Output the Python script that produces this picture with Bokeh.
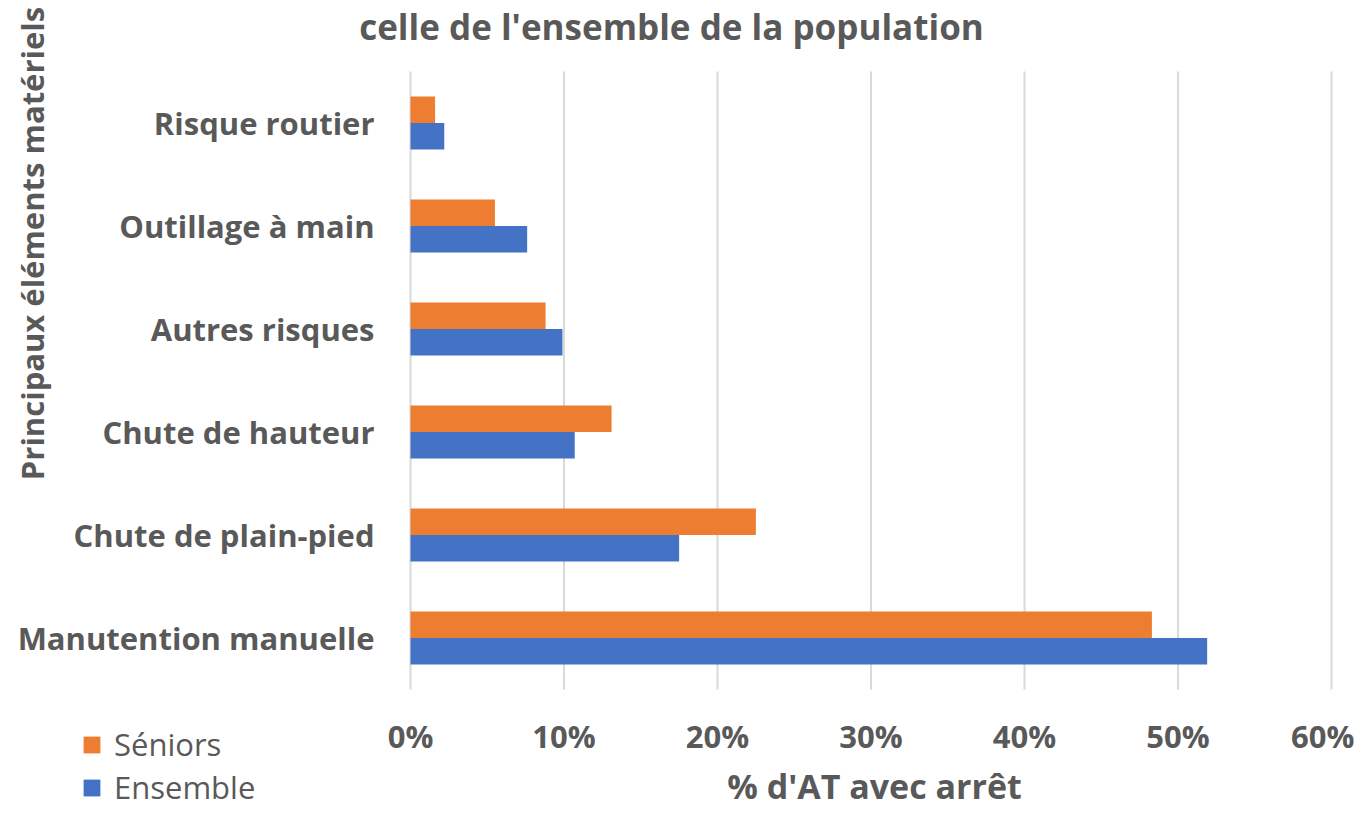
import math
from bokeh.plotting import figure
from bokeh.models import (Range1d, NumeralTickFormatter, Label, Legend, LegendItem,
                          FixedTicker, ColumnDataSource)
from bokeh.transform import dodge
from bokeh.embed import file_html
from bokeh.resources import INLINE

# ---- data ----
categories = ["Manutention manuelle", "Chute de plain-pied", "Chute de hauteur",
              "Autres risques", "Outillage à main", "Risque routier"]
seniors = [0.483, 0.225, 0.131, 0.088, 0.055, 0.016]
ensemble = [0.519, 0.175, 0.107, 0.099, 0.076, 0.022]
x_ticks = [0.0, 0.1, 0.2, 0.3, 0.4, 0.5, 0.6]
series_names = ["Séniors", "Ensemble"]
title_text = "celle de l'ensemble de la population"
y_title = "Principaux éléments matériels"
x_title = "% d'AT avec arrêt"

# ---- style / layout ----
ORANGE = "#ED7D31"
BLUE = "#4472C4"
GREY = "#595959"
FONT = "Open Sans"
W, H = 1354, 809
PX_L, PX_R = 410, 1331          # plot-area left/right in pixels
ROW = 103                        # pixels per category row
Y_C0 = 637.5                     # pixel centre of first category row

ppx = (PX_R - PX_L) / x_ticks[-1]
x_start = -PX_L / ppx
x_end = x_ticks[-1] + (W - PX_R) / ppx
y_start = -(H - Y_C0) / ROW
y_end = Y_C0 / ROW

n = len(categories)
ypos = list(range(n))
src = ColumnDataSource(dict(ypos=ypos, cat=categories, seniors=seniors, ensemble=ensemble))

p = figure(width=W, height=H, output_backend="svg", toolbar_location=None,
           x_range=Range1d(x_start, x_end), y_range=Range1d(y_start, y_end))
p.min_border = 0
p.min_border_left = 0
p.min_border_right = 0
p.min_border_top = 0
p.min_border_bottom = 0
p.outline_line_color = None
p.xgrid.grid_line_color = None
p.ygrid.grid_line_color = None

# vertical grid lines limited to the plot area
grid_src = ColumnDataSource(dict(x=x_ticks, y0=[-0.5] * len(x_ticks),
                                 y1=[n - 0.5] * len(x_ticks)))
p.segment(x0="x", x1="x", y0="y0", y1="y1", source=grid_src,
          line_color="#D9D9D9", line_width=2)

BAR_H = 0.257
r_s = p.hbar(y=dodge("ypos", BAR_H / 2), right="seniors", height=BAR_H,
             source=src, fill_color=ORANGE, line_color=None)
r_e = p.hbar(y=dodge("ypos", -BAR_H / 2), right="ensemble", height=BAR_H,
             source=src, fill_color=BLUE, line_color=None)

# axes (fixed inside the canvas)
xa = p.xaxis[0]
ya = p.yaxis[0]
xa.fixed_location = -0.5
ya.fixed_location = 0
xa.ticker = FixedTicker(ticks=x_ticks)
xa.formatter = NumeralTickFormatter(format="0%")
ya.ticker = FixedTicker(ticks=ypos)
ya.major_label_overrides = {i: c for i, c in enumerate(categories)}
for ax in (xa, ya):
    ax.axis_line_color = None
    ax.major_tick_line_color = None
    ax.minor_tick_line_color = None
    ax.major_label_text_font = FONT
    ax.major_label_text_font_style = "bold"
    ax.major_label_text_color = GREY
    ax.major_label_text_font_size = "31px"
ya.major_label_standoff = 30
xa.major_label_standoff = 19


def lab(text, x, y, size, bold=True, angle=0.0, baseline="middle"):
    p.add_layout(Label(x=x, y=H - y, x_units="screen", y_units="screen", text=text,
                       text_font=FONT, text_font_style="bold" if bold else "normal",
                       text_font_size=size, text_color=GREY, text_align="center",
                       text_baseline=baseline, angle=angle))


lab(title_text, 671, 26, "35px", baseline="alphabetic")
lab(y_title, 31, 243, "31px", angle=math.pi / 2)
lab(x_title, 874, 785, "34px", baseline="alphabetic")

# legend: one small legend per series for exact placement
LEG_SIZE = 31
item_h = 1.362 * LEG_SIZE
for name, rend, yc in ((series_names[0], r_s, 744), (series_names[1], r_e, 787)):
    lg = Legend(items=[LegendItem(label=name, renderers=[rend])],
                location=(81, H - yc - item_h / 2), orientation="vertical",
                glyph_width=21, glyph_height=21, label_height=21,
                label_text_font=FONT, label_text_font_size=f"{LEG_SIZE}px",
                label_text_color=GREY, label_standoff=12, spacing=0,
                padding=0, margin=0, border_line_alpha=0, background_fill_alpha=0)
    p.add_layout(lg, "center")

open("out.html", "w").write(file_html(p, INLINE))
